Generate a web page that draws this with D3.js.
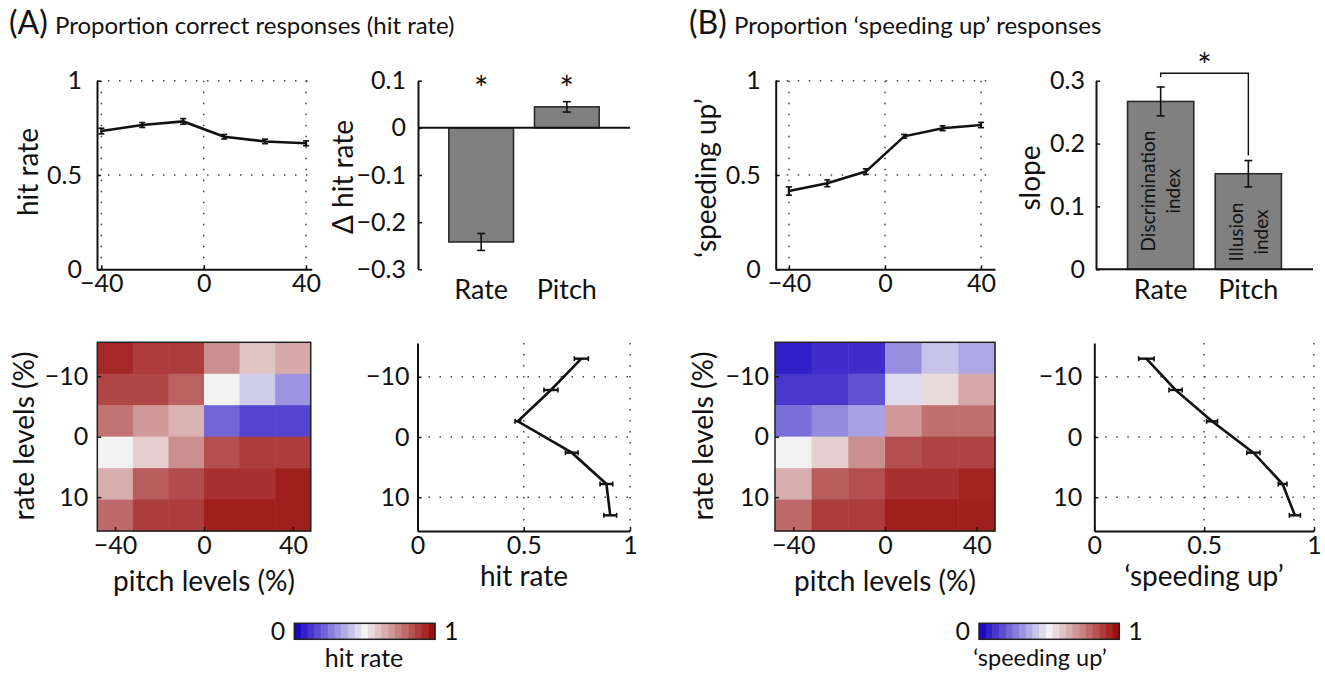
<!DOCTYPE html>
<html>
<head>
  <meta charset="utf-8">
  <title>Hit rate and speeding up responses</title>
  <script src="https://d3js.org/d3.v7.min.js"></script>
  <style>
    body { margin: 0; background: #fff; }
    svg text { font-family: Lato, "Open Sans", sans-serif; fill: #111; }
  </style>
</head>
<body>
<svg id="fig" width="1325" height="676"></svg>
<script>
// ---- data ----
const pitchLevels = [-40, -24, -8, 8, 24, 40];
const rateLevels = [-13, -7.8, -2.6, 2.6, 7.8, 13];

const hitByPitch = [0.733, 0.765, 0.784, 0.703, 0.678, 0.668];
const hitByPitchErr = [0.015, 0.013, 0.015, 0.012, 0.012, 0.013];
const speedByPitch = [0.415, 0.456, 0.518, 0.705, 0.748, 0.765];
const speedByPitchErr = [0.022, 0.018, 0.015, 0.01, 0.013, 0.014];

const hitByRate = [0.771, 0.628, 0.472, 0.726, 0.889, 0.907];
const hitByRateErr = [0.033, 0.033, 0.013, 0.03, 0.03, 0.03];
const speedByRate = [0.237, 0.37, 0.536, 0.724, 0.857, 0.913];
const speedByRateErr = [0.035, 0.03, 0.025, 0.03, 0.02, 0.025];

const barCats = ["Rate", "Pitch"];
const deltaHit = [-0.242, 0.0445];
const deltaHitErr = [0.018, 0.011];
const slopes = [0.267, 0.152];
const slopesErr = [0.023, 0.021];

// rows = rate levels (top to bottom), columns = pitch levels
const hitGrid = [
  [0.95, 0.90, 0.90, 0.72, 0.60, 0.66],
  [0.88, 0.88, 0.82, 0.50, 0.42, 0.30],
  [0.78, 0.70, 0.64, 0.20, 0.13, 0.13],
  [0.50, 0.58, 0.72, 0.86, 0.90, 0.90],
  [0.65, 0.83, 0.87, 0.93, 0.93, 0.97],
  [0.80, 0.90, 0.90, 0.97, 0.97, 0.97]
];
const speedGrid = [
  [0.05, 0.08, 0.08, 0.29, 0.40, 0.34],
  [0.10, 0.10, 0.16, 0.45, 0.55, 0.66],
  [0.22, 0.28, 0.33, 0.70, 0.79, 0.79],
  [0.50, 0.58, 0.72, 0.86, 0.89, 0.89],
  [0.65, 0.83, 0.86, 0.93, 0.93, 0.96],
  [0.80, 0.90, 0.90, 0.97, 0.97, 0.97]
];

const svg = d3.select("#fig");
const fmt = d3.format("~g");
const FS = 25;   // tick labels
const LS = 28;   // axis labels

// blue - white - red colour map
const cmap = d3.scaleLinear()
  .domain([0, 0.5, 1])
  .range(["#1c08c4", "#f2f2f2", "#9c1010"]);

function styleAxis(g) {
  g.select(".domain").attr("stroke", "#111").attr("stroke-width", 2);
  g.selectAll(".tick line").attr("stroke", "#111").attr("stroke-width", 1.5);
  g.selectAll(".tick text").attr("font-size", FS).attr("font-family", null);
}

function dotted(g, x1, y1, x2, y2) {
  g.append("line")
    .attr("x1", x1).attr("y1", y1).attr("x2", x2).attr("y2", y2)
    .attr("stroke", "#444").attr("stroke-width", 1.5)
    .attr("stroke-dasharray", "1.5 9.5");
}

function yLabel(text, cx, cy, fs) {
  svg.append("text")
    .attr("transform", `translate(${cx},${cy}) rotate(-90)`)
    .attr("text-anchor", "middle").attr("dy", "0.35em")
    .attr("font-size", fs || LS).text(text);
}
function xLabel(text, cx, cy, fs) {
  svg.append("text").attr("x", cx).attr("y", cy)
    .attr("text-anchor", "middle").attr("dy", "0.35em")
    .attr("font-size", fs || LS).text(text);
}

// line plot with pitch levels on x
function pitchLine(o) {
  const x = d3.scaleLinear().domain(o.xd).range(o.xr);
  const y = d3.scaleLinear().domain([0, 1]).range([269.3, 80.7]);
  const g = svg.append("g");
  [-40, 0, 40].forEach(v => dotted(g, x(v), y(1), x(v), y(0)));
  [0.5, 1].forEach(v => dotted(g, o.xr[0], y(v), o.xr[1], y(v)));
  g.append("g").attr("transform", `translate(0,${y(0)})`)
    .call(d3.axisBottom(x).tickValues([-40, 0, 40]).tickFormat(fmt)
      .tickSizeInner(-4).tickSizeOuter(0).tickPadding(5))
    .call(styleAxis);
  g.append("g").attr("transform", `translate(${o.xr[0]},0)`)
    .call(d3.axisLeft(y).tickValues([0, 0.5, 1]).tickFormat(fmt)
      .tickSizeInner(-4).tickSizeOuter(0).tickPadding(o.ypad))
    .call(styleAxis);
  const pts = pitchLevels.map((p, i) => [p, o.vals[i], o.errs[i]]);
  g.append("path").datum(pts)
    .attr("fill", "none").attr("stroke", "#111").attr("stroke-width", 2.6)
    .attr("d", d3.line().x(d => x(d[0])).y(d => y(d[1])));
  const eb = g.selectAll(".eb").data(pts).join("g");
  eb.append("line")
    .attr("x1", d => x(d[0])).attr("x2", d => x(d[0]))
    .attr("y1", d => y(d[1] - d[2])).attr("y2", d => y(d[1] + d[2]))
    .attr("stroke", "#111").attr("stroke-width", 2.2);
  [-1, 1].forEach(s => eb.append("line")
    .attr("x1", d => x(d[0]) - 3).attr("x2", d => x(d[0]) + 3)
    .attr("y1", d => y(d[1] + s * d[2])).attr("y2", d => y(d[1] + s * d[2]))
    .attr("stroke", "#111").attr("stroke-width", 1.6));
}

// line plot with rate levels on y
function rateLine(o) {
  const x = d3.scaleLinear().domain([0, 1]).range(o.xr);
  const y = d3.scaleLinear().domain([-15.6, 15.6]).range([343, 531]);
  const g = svg.append("g");
  [0.5, 1].forEach(v => dotted(g, x(v), y(-15.6), x(v), y(15.6)));
  [-10, 0, 10].forEach(v => dotted(g, o.xr[0], y(v), o.xr[1], y(v)));
  g.append("g").attr("transform", `translate(0,${y(15.6)})`)
    .call(d3.axisBottom(x).tickValues([0, 0.5, 1]).tickFormat(fmt)
      .tickSizeInner(-4).tickSizeOuter(0).tickPadding(5))
    .call(styleAxis);
  g.append("g").attr("transform", `translate(${o.xr[0]},0)`)
    .call(d3.axisLeft(y).tickValues([-10, 0, 10]).tickFormat(fmt)
      .tickSizeInner(-4).tickSizeOuter(0).tickPadding(o.ypad))
    .call(styleAxis);
  const pts = rateLevels.map((r, i) => [o.vals[i], r, o.errs[i]]);
  g.append("path").datum(pts)
    .attr("fill", "none").attr("stroke", "#111").attr("stroke-width", 2.6)
    .attr("d", d3.line().x(d => x(d[0])).y(d => y(d[1])));
  const eb = g.selectAll(".eb").data(pts).join("g");
  eb.append("line")
    .attr("x1", d => x(d[0] - d[2])).attr("x2", d => x(d[0] + d[2]))
    .attr("y1", d => y(d[1])).attr("y2", d => y(d[1]))
    .attr("stroke", "#111").attr("stroke-width", 2.4);
  [-1, 1].forEach(s => eb.append("line")
    .attr("x1", d => x(d[0] + s * d[2])).attr("x2", d => x(d[0] + s * d[2]))
    .attr("y1", d => y(d[1]) - 2.5).attr("y2", d => y(d[1]) + 2.5)
    .attr("stroke", "#111").attr("stroke-width", 1.6));
}

function heatmap(o) {
  const x = d3.scaleLinear().domain([-48, 48]).range(o.xr);
  const y = d3.scaleLinear().domain([-15.6, 15.6]).range([342.3, 531]);
  const g = svg.append("g");
  const cells = [];
  o.grid.forEach((row, i) => row.forEach((v, j) =>
    cells.push({ p: pitchLevels[j], r: rateLevels[i], v: v })));
  g.selectAll("rect").data(cells).join("rect")
    .attr("x", d => x(d.p - 8)).attr("y", d => y(d.r - 2.6))
    .attr("width", x(8) - x(-8) + 0.5).attr("height", y(2.6) - y(-2.6) + 0.5)
    .attr("fill", d => cmap(d.v));
  g.append("rect")
    .attr("x", o.xr[0]).attr("y", 342.3)
    .attr("width", o.xr[1] - o.xr[0]).attr("height", 531 - 342.3)
    .attr("fill", "none").attr("stroke", "#222").attr("stroke-width", 1.5);
  g.append("g").attr("transform", "translate(0,531)")
    .call(d3.axisBottom(x).tickValues([-40, 0, 40]).tickFormat(fmt)
      .tickSizeInner(-4).tickSizeOuter(0).tickPadding(5))
    .call(styleAxis)
    .call(a => a.select(".domain").remove());
  g.append("g").attr("transform", `translate(${o.xr[0]},0)`)
    .call(d3.axisLeft(y).tickValues([-10, 0, 10]).tickFormat(fmt)
      .tickSizeInner(-4).tickSizeOuter(0).tickPadding(o.ypad))
    .call(styleAxis)
    .call(a => a.select(".domain").remove());
}

function barPlot(o) {
  const x = d3.scaleBand().domain(barCats).range(o.xr)
    .paddingInner(0.245).paddingOuter(0.36);
  const y = d3.scaleLinear().domain(o.yd).range([269.3, 80.7]);
  const g = svg.append("g");
  g.selectAll(".bar").data(barCats).join("rect")
    .attr("x", d => x(d)).attr("width", x.bandwidth())
    .attr("y", (d, i) => y(Math.max(0, o.vals[i])))
    .attr("height", (d, i) => Math.abs(y(o.vals[i]) - y(0)))
    .attr("fill", "#808080").attr("stroke", "#2a2a2a").attr("stroke-width", 1.6);
  const cx = d => x(d) + x.bandwidth() / 2;
  g.selectAll(".err").data(barCats).join("g").each(function(d, i) {
    const e = d3.select(this);
    e.append("line").attr("x1", cx(d)).attr("x2", cx(d))
      .attr("y1", y(o.vals[i] - o.errs[i])).attr("y2", y(o.vals[i] + o.errs[i]))
      .attr("stroke", "#111").attr("stroke-width", 1.6);
    [-1, 1].forEach(s => e.append("line")
      .attr("x1", cx(d) - 4).attr("x2", cx(d) + 4)
      .attr("y1", y(o.vals[i] + s * o.errs[i])).attr("y2", y(o.vals[i] + s * o.errs[i]))
      .attr("stroke", "#111").attr("stroke-width", 1.6));
  });
  // zero line
  g.append("line").attr("x1", o.xr[0]).attr("x2", o.xr[1])
    .attr("y1", y(0)).attr("y2", y(0))
    .attr("stroke", "#111").attr("stroke-width", 2);
  g.append("g").attr("transform", `translate(${o.xr[0]},0)`)
    .call(d3.axisLeft(y).tickValues(o.yticks).tickFormat(fmt)
      .tickSizeInner(-4).tickSizeOuter(0).tickPadding(o.ypad))
    .call(styleAxis);
  g.selectAll(".cat").data(barCats).join("text")
    .attr("x", cx).attr("y", 290).attr("dy", "0.35em")
    .attr("text-anchor", "middle").attr("font-size", 27).text(d => d);
  return { x: x, y: y, cx: cx };
}

function colorbar(x0, x1, label, lx, lfs) {
  const n = 21;
  const steps = d3.range(n);
  const x = d3.scaleLinear().domain([0, n]).range([x0, x1]);
  const g = svg.append("g");
  g.selectAll("rect").data(steps).join("rect")
    .attr("x", d => x(d)).attr("width", x(1) - x(0) + 0.5)
    .attr("y", 623.3).attr("height", 16)
    .attr("fill", d => cmap(d / (n - 1)));
  g.append("rect").attr("x", x0).attr("y", 623.3)
    .attr("width", x1 - x0).attr("height", 16)
    .attr("fill", "none").attr("stroke", "#222").attr("stroke-width", 1.5);
  g.append("text").attr("x", x0 - 9).attr("y", 631).attr("dy", "0.35em")
    .attr("text-anchor", "end").attr("font-size", 25).text("0");
  g.append("text").attr("x", x1 + 9).attr("y", 631).attr("dy", "0.35em")
    .attr("text-anchor", "start").attr("font-size", 25).text("1");
  xLabel(label, lx, 658, lfs);
}

// ---- titles ----
function title(letter, text, x, xt) {
  svg.append("text").attr("x", x).attr("y", 34).attr("font-size", 32).text(letter);
  svg.append("text").attr("x", xt).attr("y", 34).attr("font-size", 24).text(text);
}
title("(A)", "Proportion correct responses (hit rate)", 9, 55);
title("(B)", "Proportion \u2018speeding up\u2019 responses", 689, 734);

// ---- panel A ----
pitchLine({ xd: [-41.7, 42.2], xr: [97, 311.7], vals: hitByPitch, errs: hitByPitchErr, ypad: 15 });
yLabel("hit rate", 28, 172);

const bA = barPlot({ xr: [418, 630], yd: [-0.3, 0.1], yticks: [-0.3, -0.2, -0.1, 0, 0.1],
  vals: deltaHit, errs: deltaHitErr, ypad: 12 });
yLabel("\u0394 hit rate", 343, 177);
barCats.forEach(c => svg.append("text")
  .attr("x", bA.cx(c)).attr("y", 101).attr("text-anchor", "middle")
  .attr("font-size", 34).text("*"));

heatmap({ xr: [97.3, 310.7], grid: hitGrid, ypad: 9 });
yLabel("rate levels (%)", 24, 436);
xLabel("pitch levels (%)", 204, 581);

rateLine({ xr: [417.5, 630], vals: hitByRate, errs: hitByRateErr, ypad: 8 });
xLabel("hit rate", 524, 576);

colorbar(294.3, 435, "hit rate", 364, 25);

// ---- panel B ----
pitchLine({ xd: [-45.5, 45.8], xr: [775.7, 995], vals: speedByPitch, errs: speedByPitchErr, ypad: 15 });
yLabel("\u2018speeding up\u2019", 706, 178);

const bB = barPlot({ xr: [1096, 1313], yd: [0, 0.3], yticks: [0, 0.1, 0.2, 0.3],
  vals: slopes, errs: slopesErr, ypad: 11 });
yLabel("slope", 1030, 178);

// bar annotations
[["Discrimination", "index", 191], ["Illusion", "index", 232]].forEach((t, i) => {
  const c = bB.cx(barCats[i]);
  svg.append("text")
    .attr("transform", `translate(${c - 12},${t[2]}) rotate(-90)`)
    .attr("text-anchor", "middle").attr("dy", "0.35em")
    .attr("font-size", 19).text(t[0]);
  svg.append("text")
    .attr("transform", `translate(${c + 13},${t[2]}) rotate(-90)`)
    .attr("text-anchor", "middle").attr("dy", "0.35em")
    .attr("font-size", 19).text(t[1]);
});

// significance bracket
const brY = 73.3;
svg.append("path")
  .attr("d", `M${bB.cx("Rate")},${brY + 4}V${brY}H${bB.cx("Pitch")}V${bB.y(slopes[1] + slopesErr[1]) - 5}`)
  .attr("fill", "none").attr("stroke", "#111").attr("stroke-width", 1.4);
svg.append("text")
  .attr("x", (bB.cx("Rate") + bB.cx("Pitch")) / 2).attr("y", 78)
  .attr("text-anchor", "middle").attr("font-size", 34).text("*");

heatmap({ xr: [775, 995], grid: speedGrid, ypad: 6 });
yLabel("rate levels (%)", 703, 436);
xLabel("pitch levels (%)", 885, 581);

rateLine({ xr: [1094.3, 1314], vals: speedByRate, errs: speedByRateErr, ypad: 12 });
xLabel("\u2018speeding up\u2019", 1204, 576);

colorbar(979, 1119.3, "\u2018speeding up\u2019", 1040, 23.5);
</script>
</body>
</html>
